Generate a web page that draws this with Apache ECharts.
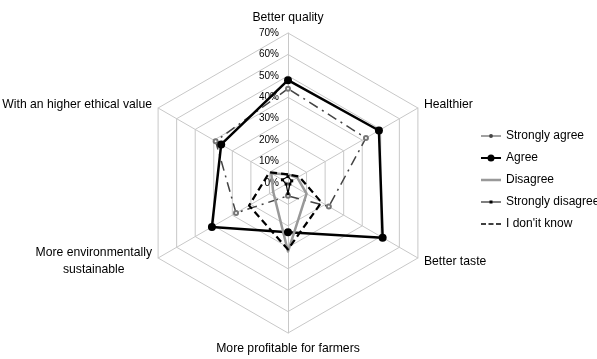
<!DOCTYPE html>
<html lang="en">
<head>
    <meta charset="UTF-8">
    <title>Radar</title>
    <script src="https://cdn.jsdelivr.net/npm/echarts@6/dist/echarts.min.js"></script>
    <style>
        html, body { margin: 0; padding: 0; background: #fff; }
        #chart { width: 597px; height: 359px; }
    </style>
</head>
<body>
<div id="chart"></div>
<script>
    // axes, listed counterclockwise from the top (ECharts radar order)
    const categories = ['Better quality', 'With an higher ethical value', 'More environmentally\nsustainable',
        'More profitable for farmers', 'Better taste', 'Healthier'];
    const stronglyAgree = [44, 39, 28, 6, 22, 42];
    const agree = [48, 36, 41, 23, 51, 49];
    const disagree = [4, 9, 8, 32, 10, 5];
    const stronglyDisagree = [3, 3, 1, 5, 1, 2];
    const dontKnow = [4, 10, 21, 31, 18, 6];
    const seriesNames = ['Strongly agree', 'Agree', 'Disagree', 'Strongly disagree', "I don'it know"];

    const font = 'Liberation Sans, Arial, sans-serif';
    // legend icons drawn in a 20x10 box, corner dots keep the box size
    const box = 'M0,0h0.01v0.01h-0.01z M20,10h-0.01v-0.01h0.01z ';
    const icons = [
        'path://' + box + 'M0,4.5h20v1h-20z M8,5a2,2 0 1,1 4,0a2,2 0 1,1 -4,0z',
        'path://' + box + 'M0,4h20v2h-20z M6.5,5a3.5,3.5 0 1,1 7,0a3.5,3.5 0 1,1 -7,0z',
        'path://' + box + 'M0,3.7h20v2.6h-20z',
        'path://' + box + 'M0,4.5h20v1h-20z M8.5,3.5h3v3h-3z',
        'path://' + box + 'M0,4.2h5v1.6h-5z M7.5,4.2h5v1.6h-5z M15,4.2h5v1.6h-5z'
    ];
    const iconColors = ['#444', '#000', '#999', '#000', '#000'];

    const myChart = echarts.init(document.getElementById('chart'));
    const option = {
        animation: false,
        textStyle: {fontFamily: font},
        legend: {
            orient: 'vertical',
            left: 481,
            top: 129,
            padding: 0,
            itemWidth: 20,
            itemHeight: 10,
            itemGap: 8,
            textStyle: {fontSize: 12, color: '#000', fontFamily: font, lineHeight: 14},
            itemStyle: {borderWidth: 0},
            data: seriesNames.map(function (n, i) {
                return {name: n, icon: icons[i], itemStyle: {color: iconColors[i], borderWidth: 0}};
            })
        },
        radar: {
            center: [288, 183],
            radius: 150,
            startAngle: 90,
            splitNumber: 7,
            shape: 'polygon',
            nameGap: 7,
            axisName: {
                color: '#000',
                fontSize: 12.2,
                fontFamily: font,
                formatter: function (name) {
                    return name.split('\n').map(function (s) { return '{c|' + s + '}'; }).join('\n');
                },
                rich: {c: {align: 'center', fontSize: 12.2, fontFamily: font, color: '#000', lineHeight: 17}}
            },
            splitLine: {lineStyle: {color: '#c8c8c8', width: 1}},
            splitArea: {show: false},
            axisLine: {lineStyle: {color: '#c8c8c8', width: 1}},
            axisLabel: {show: false},
            indicator: categories.map(function (n, i) {
                const ind = {name: n, min: 0, max: 70};
                if (i === 0) {
                    ind.axisLabel = {show: true, formatter: '{value}%', fontSize: 10, color: '#000',
                        fontFamily: font, margin: 9};
                }
                return ind;
            })
        },
        series: [{
            type: 'radar',
            data: [
                {
                    name: seriesNames[0], value: stronglyAgree,
                    symbol: 'emptyCircle', symbolSize: 4,
                    lineStyle: {color: '#444', width: 1.5, type: [10, 5, 2, 5]},
                    itemStyle: {color: '#777', borderWidth: 1}
                },
                {
                    name: seriesNames[1], value: agree,
                    symbol: 'circle', symbolSize: 8,
                    lineStyle: {color: '#000', width: 2.5},
                    itemStyle: {color: '#000'}
                },
                {
                    name: seriesNames[2], value: disagree,
                    symbol: 'none',
                    lineStyle: {color: '#999', width: 2.5},
                    itemStyle: {color: '#999'}
                },
                {
                    name: seriesNames[3], value: stronglyDisagree,
                    symbol: 'rect', symbolSize: 3,
                    lineStyle: {color: '#000', width: 1.2},
                    itemStyle: {color: '#000'}
                },
                {
                    name: seriesNames[4], value: dontKnow,
                    symbol: 'none',
                    lineStyle: {color: '#000', width: 2.2, type: [7, 4]},
                    itemStyle: {color: '#000'}
                }
            ]
        }]
    };
    myChart.setOption(option);
</script>
</body>
</html>
